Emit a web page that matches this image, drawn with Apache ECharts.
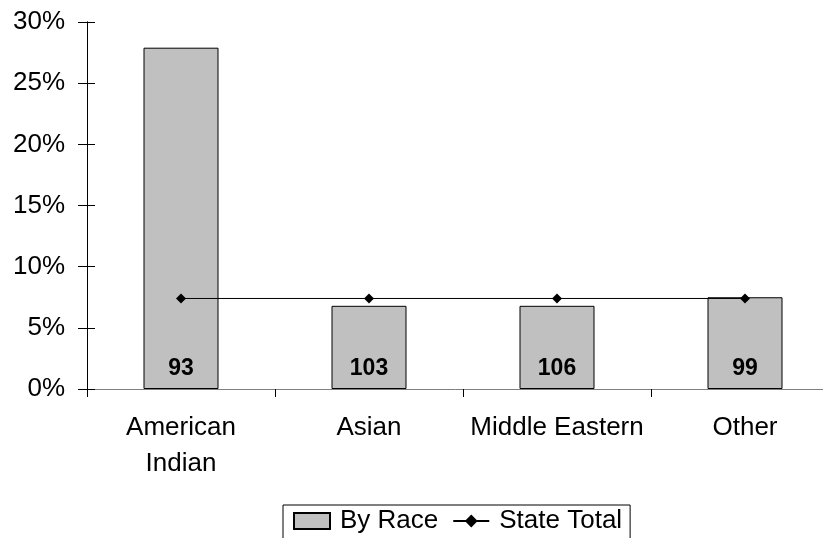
<!DOCTYPE html>
<html>
<head>
<meta charset="utf-8">
<script src="https://cdn.jsdelivr.net/npm/echarts@6/dist/echarts.min.js"></script>
<style>
html,body{margin:0;padding:0;background:#fff;}
#chart{width:823px;height:538px;}
</style>
</head>
<body>
<div id="chart"></div>
<script>
const categories = ['American\nIndian', 'Asian', 'Middle Eastern', 'Other'];
const byRace = [27.9, 6.8, 6.8, 7.5];
const stateTotal = [7.4, 7.4, 7.4, 7.4];
const barLabels = [93, 103, 106, 99];
const yTicks = [0, 5, 10, 15, 20, 25, 30];

const FONT = '"Liberation Sans", Arial, Helvetica, sans-serif';
const chart = echarts.init(document.getElementById('chart'));
const yBase = {
  type: 'value', min: yTicks[0], max: yTicks[yTicks.length - 1], interval: 5,
  position: 'left', splitLine: { show: false },
  axisLine: { show: true, lineStyle: { color: '#000', width: 1 } }
};
chart.setOption({
  animation: false,
  backgroundColor: '#fff',
  textStyle: { fontFamily: FONT },
  grid: { left: 87, top: 22, width: 752, bottom: 149, containLabel: false, outerBoundsMode: 'none' },
  legend: {
    left: 283, top: 505,
    padding: [3, 8, 10, 10],
    borderColor: '#000', borderWidth: 1,
    itemWidth: 36, itemHeight: 16, itemGap: 14,
    textStyle: { fontFamily: FONT, fontSize: 26, color: '#000', padding: [0, 0, 0, 5] },
    data: [{ name: 'By Race', icon: 'rect' }, { name: 'State Total' }]
  },
  xAxis: {
    type: 'category', data: categories, boundaryGap: true,
    axisLine: { show: true, lineStyle: { color: '#808080', width: 1 } },
    axisTick: { show: true, alignWithLabel: false, length: 8, lineStyle: { color: '#000' } },
    axisLabel: { fontFamily: FONT, fontSize: 26, color: '#000', margin: 21, lineHeight: 36, interval: 0 }
  },
  yAxis: [
    Object.assign({}, yBase, {
      axisTick: { show: true, length: 9, lineStyle: { color: '#000' } },
      axisLabel: { fontFamily: FONT, fontSize: 26, color: '#000', margin: 22, formatter: '{value}%' }
    }),
    Object.assign({}, yBase, {
      axisTick: { show: true, inside: true, length: 8, lineStyle: { color: '#000' } },
      axisLabel: { show: false }
    })
  ],
  series: [
    {
      name: 'By Race', type: 'bar', data: byRace, barWidth: 75, yAxisIndex: 0,
      itemStyle: { color: '#c0c0c0', borderColor: '#000', borderWidth: 1 },
      label: {
        show: true, position: 'insideBottom', distance: 9,
        formatter: p => String(barLabels[p.dataIndex]),
        fontFamily: FONT, fontSize: 23, fontWeight: 'bold', color: '#000'
      }
    },
    {
      name: 'State Total', type: 'line', data: stateTotal, yAxisIndex: 0,
      symbol: 'diamond', symbolSize: 10,
      lineStyle: { color: '#000', width: 1 },
      itemStyle: { color: '#000' }
    }
  ]
});
</script>
</body>
</html>
